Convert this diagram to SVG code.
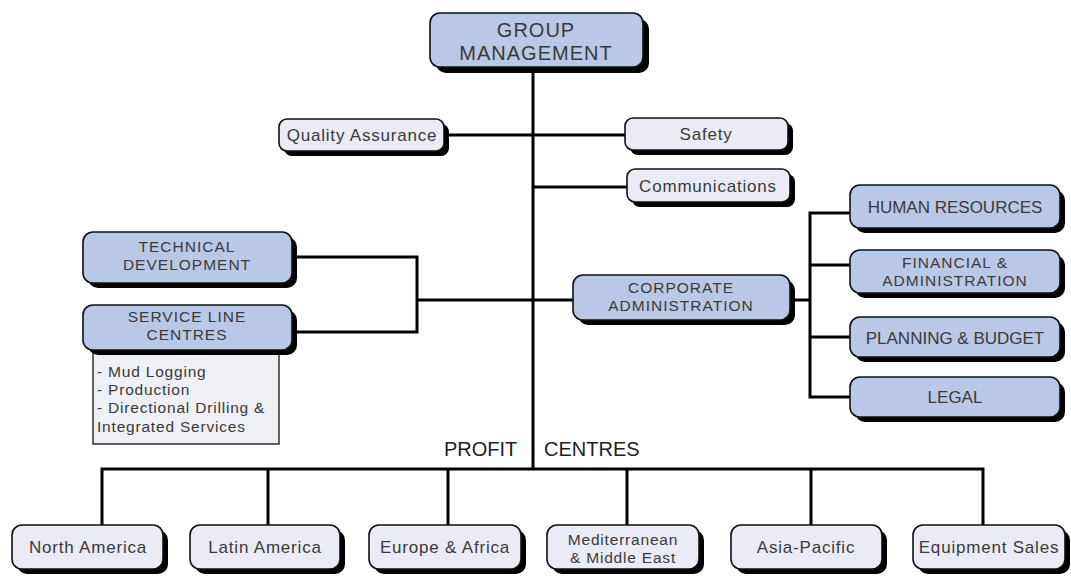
<svg xmlns="http://www.w3.org/2000/svg" width="1071" height="581" viewBox="0 0 1071 581">
  <style>
    .box { stroke: #111; stroke-width: 1.6; }
    .blue { fill: #b9c8e7; }
    .pale { fill: #ebebf5; }
    .shadow { fill: #000; }
    .list { fill: #efeff6; stroke: #222; stroke-width: 1.4; }
    text { font-family: "Liberation Sans", Arial, sans-serif; fill: #3a3a3a; text-anchor: middle; }
    .cap { font-size: 17px; }
    .cap2 { font-size: 15.5px; letter-spacing: 1px; }
    .big { font-size: 20px; letter-spacing: 1px; }
    .lbl { font-size: 17px; letter-spacing: 0.8px; }
    .lbl2 { font-size: 15.5px; letter-spacing: 0.8px; }
    .item { font-size: 15.5px; letter-spacing: 0.8px; text-anchor: start; }
    .pc { font-size: 20px; fill: #222; text-anchor: start; }
    .wire { fill: none; stroke: #000; stroke-width: 3; stroke-linejoin: miter; }
  </style>

  <!-- connectors -->
  <g id="connectors" class="wire">
    <!-- main trunk -->
    <line x1="533" y1="68" x2="533" y2="469"/>
    <!-- staff functions -->
    <line x1="444" y1="135" x2="625" y2="135"/>
    <line x1="533" y1="187" x2="627" y2="187"/>
    <!-- technical / service line bracket -->
    <polyline points="292,257 417,257 417,332 292,332"/>
    <line x1="417" y1="300" x2="573" y2="300"/>
    <!-- corporate administration bracket -->
    <line x1="790" y1="300" x2="810" y2="300"/>
    <polyline points="850,213 810,213 810,397 850,397"/>
    <line x1="810" y1="265" x2="850" y2="265"/>
    <line x1="810" y1="337" x2="850" y2="337"/>
    <!-- profit centres bus -->
    <polyline points="102,525 102,469 983,469 983,525"/>
    <line x1="268" y1="469" x2="268" y2="525"/>
    <line x1="448" y1="469" x2="448" y2="525"/>
    <line x1="627" y1="469" x2="627" y2="525"/>
    <line x1="811" y1="469" x2="811" y2="525"/>
  </g>

  <g id="group-management">
    <rect class="shadow" x="436" y="19" width="213" height="54" rx="10"/>
    <rect class="box blue" x="430" y="13" width="213" height="54" rx="10"/>
    <text class="big" x="536" y="37">GROUP</text>
    <text class="big" x="536" y="60">MANAGEMENT</text>
  </g>

  <g id="quality-assurance">
    <rect class="shadow" x="284" y="124" width="165" height="32" rx="8"/>
    <rect class="box pale" x="279" y="119" width="165" height="32" rx="8"/>
    <text class="lbl" x="362" y="141">Quality Assurance</text>
  </g>

  <g id="safety">
    <rect class="shadow" x="630" y="123" width="163" height="32" rx="8"/>
    <rect class="box pale" x="625" y="118" width="163" height="32" rx="8"/>
    <text class="lbl" x="706" y="140">Safety</text>
  </g>

  <g id="communications">
    <rect class="shadow" x="632" y="174" width="163" height="33" rx="8"/>
    <rect class="box pale" x="627" y="169" width="163" height="33" rx="8"/>
    <text class="lbl" x="708" y="192">Communications</text>
  </g>

  <g id="technical-development">
    <rect class="shadow" x="88" y="237" width="209" height="51" rx="10"/>
    <rect class="box blue" x="83" y="232" width="209" height="51" rx="10"/>
    <text class="cap2" x="187" y="252">TECHNICAL</text>
    <text class="cap2" x="187" y="270">DEVELOPMENT</text>
  </g>

  <g id="service-line-centres">
    <rect class="list" x="93" y="350" width="186" height="94"/>
    <rect class="shadow" x="88" y="310" width="209" height="45" rx="10"/>
    <rect class="box blue" x="83" y="305" width="209" height="45" rx="10"/>
    <text class="cap2" x="187" y="322">SERVICE LINE</text>
    <text class="cap2" x="187" y="340">CENTRES</text>
    <text class="item" x="97" y="377">- Mud Logging</text>
    <text class="item" x="97" y="395">- Production</text>
    <text class="item" x="97" y="413">- Directional Drilling &amp;</text>
    <text class="item" x="97" y="432">Integrated Services</text>
  </g>

  <g id="corporate-administration">
    <rect class="shadow" x="578" y="280" width="217" height="45" rx="10"/>
    <rect class="box blue" x="573" y="275" width="217" height="45" rx="10"/>
    <text class="cap2" x="681" y="293">CORPORATE</text>
    <text class="cap2" x="681" y="311">ADMINISTRATION</text>
  </g>

  <g id="human-resources">
    <rect class="shadow" x="855" y="190" width="210" height="43" rx="10"/>
    <rect class="box blue" x="850" y="185" width="210" height="43" rx="10"/>
    <text class="cap" x="955" y="213">HUMAN RESOURCES</text>
  </g>

  <g id="financial-administration">
    <rect class="shadow" x="855" y="255" width="210" height="43" rx="10"/>
    <rect class="box blue" x="850" y="250" width="210" height="43" rx="10"/>
    <text class="cap2" x="955" y="268">FINANCIAL &amp;</text>
    <text class="cap2" x="955" y="286">ADMINISTRATION</text>
  </g>

  <g id="planning-budget">
    <rect class="shadow" x="855" y="322" width="210" height="40" rx="10"/>
    <rect class="box blue" x="850" y="317" width="210" height="40" rx="10"/>
    <text class="cap" x="955" y="344">PLANNING &amp; BUDGET</text>
  </g>

  <g id="legal">
    <rect class="shadow" x="855" y="382" width="210" height="40" rx="10"/>
    <rect class="box blue" x="850" y="377" width="210" height="40" rx="10"/>
    <text class="cap" x="955" y="403">LEGAL</text>
  </g>

  <g id="profit-centres-label">
    <text class="pc" x="444" y="456">PROFIT</text>
    <text class="pc" x="544" y="456">CENTRES</text>
  </g>

  <g id="north-america">
    <rect class="shadow" x="17" y="530" width="151" height="44" rx="10"/>
    <rect class="box pale" x="12" y="525" width="151" height="44" rx="10"/>
    <text class="lbl" x="88" y="553">North America</text>
  </g>

  <g id="latin-america">
    <rect class="shadow" x="195" y="530" width="150" height="44" rx="10"/>
    <rect class="box pale" x="190" y="525" width="150" height="44" rx="10"/>
    <text class="lbl" x="265" y="553">Latin America</text>
  </g>

  <g id="europe-africa">
    <rect class="shadow" x="374" y="530" width="152" height="44" rx="10"/>
    <rect class="box pale" x="369" y="525" width="152" height="44" rx="10"/>
    <text class="lbl" x="445" y="553">Europe &amp; Africa</text>
  </g>

  <g id="mediterranean-middle-east">
    <rect class="shadow" x="552" y="530" width="152" height="44" rx="10"/>
    <rect class="box pale" x="547" y="525" width="152" height="44" rx="10"/>
    <text class="lbl2" x="623" y="545">Mediterranean</text>
    <text class="lbl2" x="623" y="563">&amp; Middle East</text>
  </g>

  <g id="asia-pacific">
    <rect class="shadow" x="736" y="530" width="151" height="44" rx="10"/>
    <rect class="box pale" x="731" y="525" width="151" height="44" rx="10"/>
    <text class="lbl" x="806" y="553">Asia-Pacific</text>
  </g>

  <g id="equipment-sales">
    <rect class="shadow" x="918" y="530" width="152" height="44" rx="10"/>
    <rect class="box pale" x="913" y="525" width="152" height="44" rx="10"/>
    <text class="lbl" x="989" y="553">Equipment Sales</text>
  </g>
</svg>
